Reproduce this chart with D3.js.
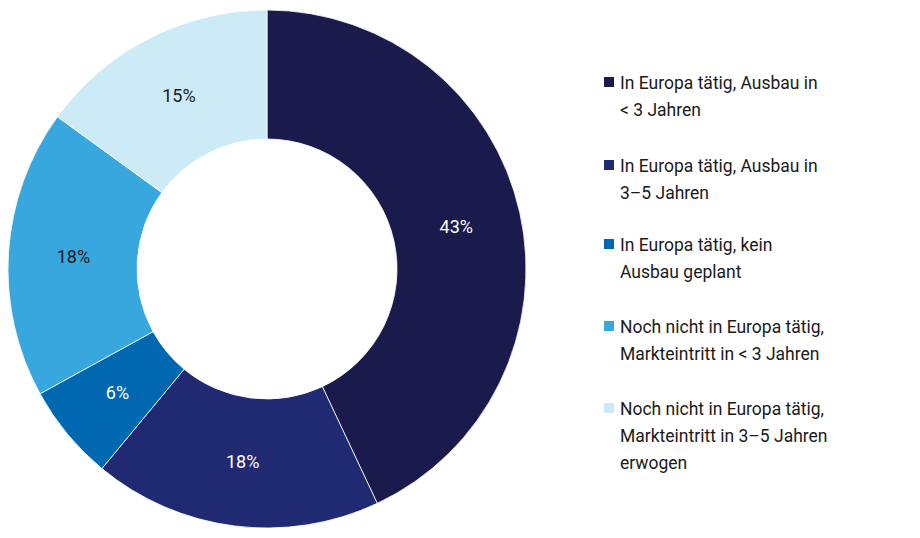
<!DOCTYPE html>
<html><head><meta charset="utf-8">
<script src="https://cdn.jsdelivr.net/npm/d3@7"></script>
<style>body{margin:0;background:#fff}</style></head>
<body><svg id="c" width="920" height="538"></svg>
<script>
const categories = [
  ["In Europa tätig, Ausbau in", "< 3 Jahren"],
  ["In Europa tätig, Ausbau in", "3–5 Jahren"],
  ["In Europa tätig, kein", "Ausbau geplant"],
  ["Noch nicht in Europa tätig,", "Markteintritt in < 3 Jahren"],
  ["Noch nicht in Europa tätig,", "Markteintritt in 3–5 Jahren", "erwogen"]
];
const values = [43, 18, 6, 18, 15];
const labels = ["43%", "18%", "6%", "18%", "15%"];
const colors = ["#1a1a4d", "#1f2a72", "#0067b1", "#37a7de", "#cdeaf7"];
const labelColors = ["#fff", "#fff", "#fff", "#1a1a1a", "#1a1a1a"];

const svg = d3.select("#c");
const font = "Roboto, 'Noto Sans', sans-serif";
const g = svg.append("g").attr("transform", "translate(267,269)");
const pie = d3.pie().sort(null).value(d => d)(values);
const arc = d3.arc().innerRadius(130).outerRadius(259);
const larc = d3.arc().innerRadius(194).outerRadius(194);
g.selectAll("path").data(pie).join("path")
  .attr("d", arc).attr("fill", (d, i) => colors[i])
  .attr("stroke", "#fff").attr("stroke-width", 0.8);
g.selectAll("text").data(pie).join("text")
  .attr("transform", d => `translate(${larc.centroid(d)})`)
  .attr("text-anchor", "middle").attr("dy", "0.35em")
  .attr("font-family", font).attr("font-size", 18)
  .attr("fill", (d, i) => labelColors[i])
  .text((d, i) => labels[i]);

const tops = [83, 166, 245, 327, 409];
const leg = svg.append("g");
categories.forEach((lines, i) => {
  leg.append("rect").attr("x", 604).attr("y", tops[i] - 6).attr("width", 10).attr("height", 10)
    .attr("fill", colors[i]);
  lines.forEach((t, j) => {
    leg.append("text").attr("x", 620).attr("y", tops[i] + j * 27).attr("dy", "0.35em")
      .attr("font-family", font).attr("font-size", 17.5).attr("fill", "#1a1a1a").text(t);
  });
});
</script></body></html>
